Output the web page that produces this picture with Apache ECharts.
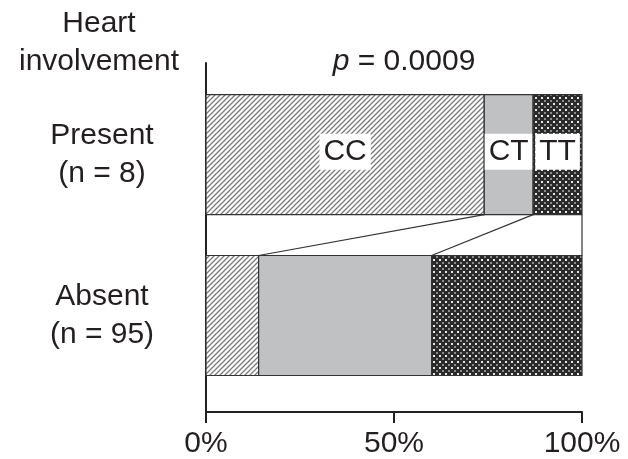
<!DOCTYPE html>
<html>
<head>
<meta charset="utf-8">
<script src="https://cdn.jsdelivr.net/npm/echarts@6/dist/echarts.min.js"></script>
<style>
  html, body { margin: 0; padding: 0; background: #fff; }
  #main { width: 628px; height: 459px; }
</style>
</head>
<body>
<div id="main"></div>
<script>
const groups = ['Present\n(n = 8)', 'Absent\n(n = 95)'];
const genotypes = ['CC', 'CT', 'TT'];
// percent of each group
const presentPct = [74, 13, 13];
const absentPct = [14, 46, 40];
const xTicks = [0, 50, 100];
const pText = '0.0009';

const myChart = echarts.init(document.getElementById('main'));
const textColor = '#231f20';
const fontFamily = '"Liberation Sans", Arial, Helvetica, sans-serif';
const fs = 30;

// fill patterns
const makeTile = (size, draw) => {
  const c = document.createElement('canvas');
  c.width = size;
  c.height = size;
  draw(c.getContext('2d'));
  return c;
};
const hatch = makeTile(5, ctx => {
  ctx.fillStyle = '#fff';
  ctx.fillRect(0, 0, 5, 5);
  ctx.strokeStyle = '#7a7a7a';
  ctx.lineWidth = 1.3;
  ctx.beginPath();
  ctx.moveTo(-1, 6); ctx.lineTo(6, -1);
  ctx.moveTo(-1, 1); ctx.lineTo(1, -1);
  ctx.moveTo(4, 6); ctx.lineTo(6, 4);
  ctx.stroke();
});
const cross = makeTile(6, ctx => {
  ctx.fillStyle = '#2a2a2a';
  ctx.fillRect(0, 0, 6, 6);
  ctx.fillStyle = '#e8e8e8';
  ctx.fillRect(1, 1, 2, 2);
  ctx.fillStyle = '#8a8a8a';
  ctx.fillRect(4, 4, 2, 2);
});
const fills = [
  { image: hatch, repeat: 'repeat' },
  '#c0c1c3',
  { image: cross, repeat: 'repeat' }
];

const rows = [presentPct, absentPct];
const cum = rows.map(r => {
  let s = 0;
  return r.map(v => { const a = s; s += v; return [a, s]; });
});

const halfBar = 0.373; // half bar thickness in y units

const barSeries = genotypes.map((g, gi) => ({
  name: g,
  type: 'custom',
  data: rows.map((r, ri) => [cum[ri][gi][0], cum[ri][gi][1], ri]),
  renderItem: (params, api) => {
    const p0 = api.coord([api.value(0), api.value(2) - halfBar]);
    const p1 = api.coord([api.value(1), api.value(2) + halfBar]);
    const children = [{
      type: 'rect',
      shape: { x: p0[0], y: p0[1], width: p1[0] - p0[0], height: p1[1] - p0[1] },
      style: { fill: fills[gi], stroke: '#333', lineWidth: 1.2 }
    }];
    if (api.value(2) === 0) {
      children.push({
        type: 'text',
        x: (p0[0] + p1[0]) / 2,
        y: (p0[1] + p1[1]) / 2 - 3,
        style: {
          text: g,
          fontSize: fs,
          fontFamily: fontFamily,
          fill: textColor,
          align: 'center',
          verticalAlign: 'middle',
          backgroundColor: '#fff',
          padding: [3, 4],
          lineHeight: 30
        }
      });
    }
    return { type: 'group', children };
  },
  z: 2
}));

// connectors between cumulative boundaries of the two groups
const links = genotypes.map((g, gi) => [cum[0][gi][1], cum[1][gi][1]]);
const linkSeries = {
  type: 'custom',
  data: links,
  renderItem: (params, api) => {
    const a = api.coord([api.value(0), 0 + halfBar]);
    const b = api.coord([api.value(1), 1 - halfBar]);
    return {
      type: 'line',
      shape: { x1: a[0], y1: a[1], x2: b[0], y2: b[1] },
      style: { stroke: '#333', lineWidth: 1.2 }
    };
  },
  z: 3
};

const option = {
  backgroundColor: '#fff',
  animation: false,
  textStyle: { fontFamily: fontFamily },
  grid: { left: 206, right: 46, top: 63, bottom: 47 },
  xAxis: {
    type: 'value',
    min: 0,
    max: 100,
    interval: 50,
    axisLine: { show: true, onZero: false, lineStyle: { color: '#222', width: 2 } },
    axisTick: { show: true, length: 11, customValues: xTicks, lineStyle: { color: '#222', width: 2 } },
    axisLabel: {
      fontSize: fs,
      color: textColor,
      margin: 17,
      customValues: xTicks,
      formatter: '{value}%'
    },
    splitLine: { show: false }
  },
  yAxis: {
    type: 'value',
    inverse: true,
    min: -0.57,
    max: 1.6,
    axisLine: { show: true, onZero: false, lineStyle: { color: '#222', width: 2 } },
    axisTick: { show: false },
    splitLine: { show: false },
    axisLabel: {
      customValues: [0, 1],
      formatter: v => groups[Math.round(v)],
      fontSize: fs,
      lineHeight: 38,
      color: textColor,
      align: 'center',
      margin: 104,
      padding: [0, 0, 6, 0]
    }
  },
  graphic: [
    {
      type: 'text',
      x: 99,
      y: 43,
      style: {
        text: 'Heart\ninvolvement',
        fontSize: fs,
        lineHeight: 38,
        fontFamily: fontFamily,
        fill: textColor,
        align: 'center',
        verticalAlign: 'middle'
      }
    },
    {
      type: 'text',
      x: 404,
      y: 62,
      style: {
        text: '{i|p} = ' + pText,
        rich: { i: { fontStyle: 'italic', fontSize: fs, fontFamily: fontFamily, fill: textColor } },
        fontSize: fs,
        fontFamily: fontFamily,
        fill: textColor,
        align: 'center',
        verticalAlign: 'middle'
      }
    }
  ],
  series: [...barSeries, linkSeries]
};

myChart.setOption(option);
</script>
</body>
</html>
